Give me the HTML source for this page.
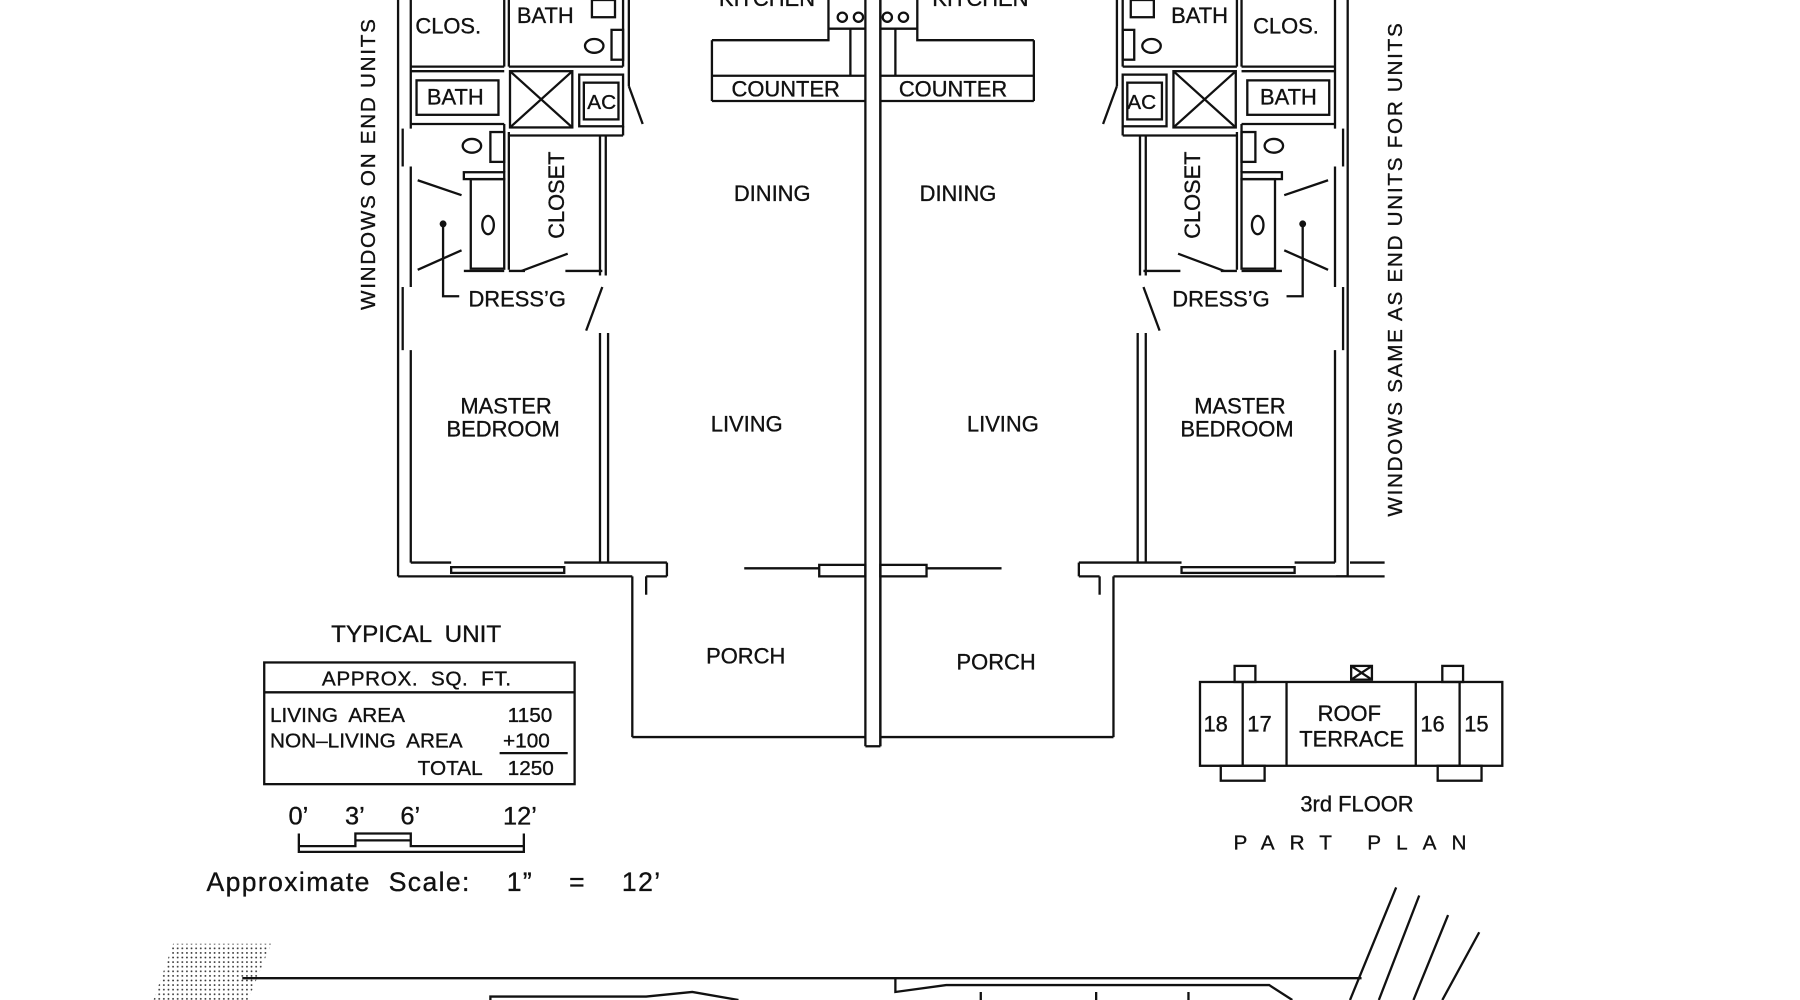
<!DOCTYPE html>
<html><head><meta charset="utf-8"><style>
html,body{margin:0;padding:0;background:#fff;}
svg{display:block;}
text{font-family:"Liberation Sans",sans-serif;fill:#111;white-space:pre;stroke:#111;stroke-width:0.3;}
</style></head><body>
<svg width="1800" height="1000" viewBox="0 0 1560 871" preserveAspectRatio="none" xmlns="http://www.w3.org/2000/svg">
<rect width="1560" height="871" fill="#fff"/>
<defs>
<g id="unit" fill="none" stroke="#111" stroke-width="2">
  <line x1="345" y1="0" x2="345" y2="502"/>
  <line x1="356" y1="0" x2="356" y2="112"/>
  <line x1="356" y1="145" x2="356" y2="250"/>
  <line x1="356" y1="305" x2="356" y2="490"/>
  <line x1="349" y1="112" x2="349" y2="145"/>
  <line x1="349" y1="250" x2="349" y2="305"/>
  <line x1="345" y1="502" x2="548" y2="502"/>
  <line x1="356" y1="490" x2="391" y2="490"/>
  <line x1="489" y1="490" x2="578" y2="490"/>
  <rect x="391" y="494" width="98" height="5"/>
  <line x1="548" y1="502" x2="548" y2="642"/>
  <line x1="560" y1="502" x2="560" y2="518"/>
  <line x1="578" y1="490" x2="578" y2="502"/>
  <line x1="560" y1="502" x2="578" y2="502"/>
  <line x1="645" y1="495" x2="710" y2="495"/>
  <rect x="710" y="492" width="40" height="10"/>
  <line x1="548" y1="642" x2="750" y2="642"/>
  <line x1="356" y1="58" x2="437" y2="58"/>
  <line x1="437" y1="0" x2="437" y2="58"/>
  <line x1="441" y1="0" x2="441" y2="58"/>
  <line x1="441" y1="58" x2="540" y2="58"/>
  <line x1="540" y1="0" x2="540" y2="58"/>
  <line x1="545" y1="0" x2="545" y2="75"/>
  <rect x="513" y="0" width="20" height="15"/>
  <ellipse cx="515" cy="40" rx="8" ry="6"/>
  <rect x="530" y="26" width="10" height="26"/>
  <line x1="356" y1="62" x2="437" y2="62"/>
  <rect x="361" y="70" width="71" height="30"/>
  <line x1="356" y1="108" x2="437" y2="108"/>
  <rect x="442" y="62" width="54" height="49"/>
  <line x1="442" y1="62" x2="496" y2="111"/>
  <line x1="496" y1="62" x2="442" y2="111"/>
  <rect x="502" y="65" width="38" height="45"/>
  <rect x="506" y="72" width="30" height="32"/>
  <line x1="545" y1="75" x2="557" y2="108"/>
  <line x1="540" y1="110" x2="540" y2="118"/>
  <ellipse cx="409" cy="127" rx="8" ry="6"/>
  <rect x="425" y="115" width="12" height="26"/>
  <line x1="437" y1="108" x2="437" y2="150"/>
  <line x1="441" y1="115" x2="441" y2="235"/>
  <line x1="441" y1="118" x2="540" y2="118"/>
  <line x1="520" y1="118" x2="520" y2="240"/>
  <line x1="525" y1="118" x2="525" y2="240"/>
  <rect x="402" y="150" width="35" height="6"/>
  <rect x="408" y="156" width="29" height="78"/>
  <ellipse cx="423" cy="196" rx="5" ry="8"/>
  <line x1="402" y1="236" x2="437" y2="236"/>
  <line x1="362" y1="157" x2="400" y2="170"/>
  <line x1="362" y1="235" x2="400" y2="218"/>
  <line x1="452" y1="236" x2="492" y2="221"/>
  <line x1="441" y1="236" x2="455" y2="236"/>
  <line x1="490" y1="236" x2="522" y2="236"/>
  <line x1="522" y1="250" x2="508" y2="288"/>
  <circle cx="384" cy="195" r="2" fill="#111"/>
  <path d="M384 197 V258 H398"/>
  <line x1="520" y1="290" x2="520" y2="490"/>
  <line x1="527" y1="290" x2="527" y2="490"/>
  <path d="M617 35 H718 V0"/>
  <line x1="617" y1="35" x2="617" y2="88"/>
  <line x1="617" y1="66" x2="750" y2="66"/>
  <line x1="617" y1="88" x2="750" y2="88"/>
  <line x1="737" y1="25" x2="737" y2="66"/>
  <line x1="718" y1="25" x2="750" y2="25"/>
  <circle cx="730" cy="15" r="4"/><circle cx="744" cy="15" r="4"/>
  <line x1="750" y1="0" x2="750" y2="650"/>
</g>
</defs>
<use href="#unit"/>
<use href="#unit" transform="translate(1513,0) scale(-1,1)"/>
<line x1="763" y1="0" x2="763" y2="650" stroke="#111" stroke-width="2"/>
<line x1="750" y1="650" x2="763" y2="650" stroke="#111" stroke-width="2"/>
<line x1="1170" y1="490" x2="1200" y2="490" stroke="#111" stroke-width="2"/>
<line x1="1158" y1="502" x2="1200" y2="502" stroke="#111" stroke-width="2"/>

<g font-size="19">
<text x="360" y="29">CLOS.</text>
<text x="448" y="20">BATH</text>
<text x="370" y="91">BATH</text>
<text x="509" y="95" font-size="18">AC</text>
<text x="623" y="5">KITCHEN</text>
<text x="634" y="84">COUNTER</text>
<text x="636" y="175">DINING</text>
<text x="406" y="267">DRESS’G</text>
<text x="399" y="360">MASTER</text>
<text x="387" y="380">BEDROOM</text>
<text x="616" y="376">LIVING</text>
<text x="612" y="578">PORCH</text>
<text x="489" y="208" transform="rotate(-90 489 208)">CLOSET</text>

<text x="1015" y="20">BATH</text>
<text x="1086" y="29">CLOS.</text>
<text x="1092" y="91">BATH</text>
<text x="977" y="95" font-size="18">AC</text>
<text x="808" y="5">KITCHEN</text>
<text x="779" y="84">COUNTER</text>
<text x="797" y="175">DINING</text>
<text x="1016" y="267">DRESS’G</text>
<text x="1035" y="360">MASTER</text>
<text x="1023" y="380">BEDROOM</text>
<text x="838" y="376">LIVING</text>
<text x="829" y="583">PORCH</text>
<text x="1040" y="208" transform="rotate(-90 1040 208)">CLOSET</text>
</g>
<text x="325" y="270" font-size="18" letter-spacing="1.5" transform="rotate(-90 325 270)">WINDOWS ON END UNITS</text>
<text x="1215" y="450" font-size="18" letter-spacing="1.5" transform="rotate(-90 1215 450)">WINDOWS SAME AS END UNITS FOR UNITS</text>

<text x="287" y="559" font-size="21">TYPICAL  UNIT</text>
<rect x="229" y="577" width="269" height="106" fill="none" stroke="#111" stroke-width="2"/>
<line x1="229" y1="603" x2="498" y2="603" stroke="#111" stroke-width="2"/>
<text x="279" y="597" font-size="18" letter-spacing="0.5">APPROX.  SQ.  FT.</text>
<g font-size="18">
<text x="234" y="629">LIVING  AREA</text><text x="440" y="629">1150</text>
<text x="234" y="651">NON–LIVING  AREA</text><text x="436" y="651">+100</text>
<text x="362" y="675">TOTAL</text><text x="440" y="675">1250</text>
</g>
<line x1="433" y1="656" x2="492" y2="656" stroke="#111" stroke-width="2"/>
<g font-size="22"><text x="250" y="718">0’</text><text x="299" y="718">3’</text><text x="347" y="718">6’</text><text x="436" y="718">12’</text></g>
<path d="M259 726 V742 H454 V726 M259 737 H308 V726 H356 V737 H454 M308 732 H356" fill="none" stroke="#111" stroke-width="2"/>
<text x="179" y="776" font-size="23" letter-spacing="1.2" word-spacing="8">Approximate Scale:  1”  =  12’</text>

<g fill="none" stroke="#111" stroke-width="2">
<rect x="1040" y="594" width="262" height="73"/>
<line x1="1077" y1="594" x2="1077" y2="667"/><line x1="1115" y1="594" x2="1115" y2="667"/>
<line x1="1227" y1="594" x2="1227" y2="667"/><line x1="1265" y1="594" x2="1265" y2="667"/>
<rect x="1070" y="580" width="18" height="14"/><rect x="1250" y="580" width="18" height="14"/>
<rect x="1171" y="580" width="18" height="12"/><path d="M1171 580 L1189 592 M1189 580 L1171 592"/>
<rect x="1058" y="667" width="38" height="13"/><rect x="1246" y="667" width="38" height="13"/>
</g>
<g font-size="19"><text x="1043" y="637">18</text><text x="1081" y="637">17</text><text x="1231" y="637">16</text><text x="1269" y="637">15</text>
<text x="1142" y="628">ROOF</text><text x="1126" y="650">TERRACE</text></g>
<text x="1127" y="707" font-size="19">3rd FLOOR</text>
<text x="1069" y="740" font-size="18" letter-spacing="13">PART PLAN</text>

<defs><pattern id="dots" width="4" height="4" patternUnits="userSpaceOnUse"><circle cx="2" cy="2" r="0.8" fill="#333"/></pattern></defs>
<path d="M150 822 H235 L215 871 H133 Z" fill="url(#dots)"/>
<g fill="none" stroke="#111" stroke-width="2">
<path d="M210 852 H1180"/>
<path d="M425 871 V868 H560 L600 864 L640 871"/>
<path d="M776 852 V864 L820 858 L1100 858 L1120 871"/>
<path d="M850 871 V864 M950 871 V864 M1030 871 V864"/>
<path d="M1170 871 L1210 773 M1195 871 L1230 780 M1225 871 L1255 797 M1250 871 L1282 812"/>
</g>
</svg>
</body></html>
